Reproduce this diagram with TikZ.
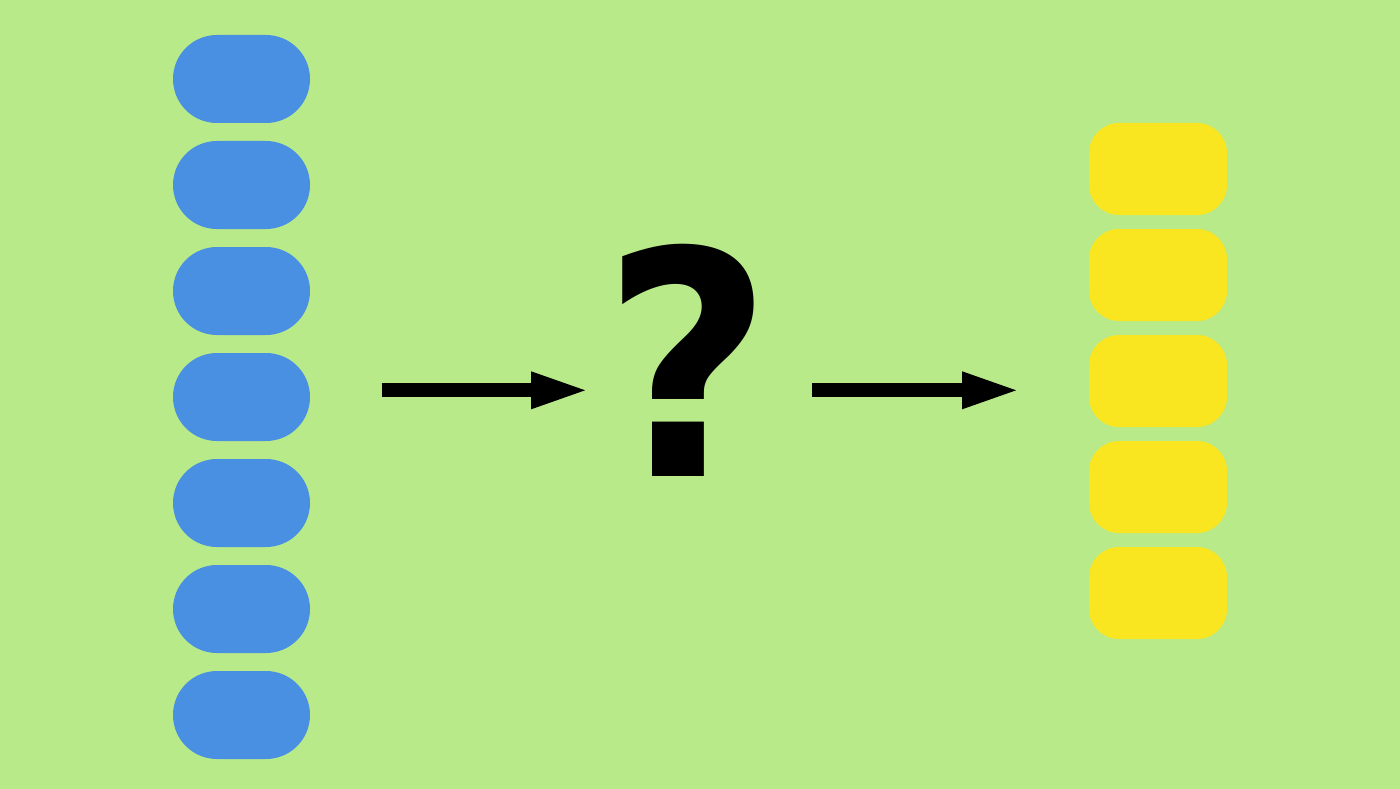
\documentclass[tikz,border=0pt]{standalone}
\usepackage{fontspec}
\newfontfamily\qfont{DejaVu Sans Bold}
\usetikzlibrary{arrows.meta}
\definecolor{bggreen}{HTML}{B8EA8A}
\definecolor{pillblue}{HTML}{4A90E2}
\definecolor{pillyellow}{HTML}{F9E520}
\def\darrow{\draw[line width=14pt,-{Triangle[length=59pt,width=33pt]}]}

\begin{document}
\begin{tikzpicture}[x=1pt,y=-1pt,
    inpill/.style={fill=pillblue,rounded corners=44pt,inner sep=0pt,
      minimum width=137pt,minimum height=88pt},
    outpill/.style={fill=pillyellow,rounded corners=30pt,inner sep=0pt,
      minimum width=138pt,minimum height=92pt}]
  \fill[bggreen] (0,0) rectangle (1400,789);
  \useasboundingbox (0,0) rectangle (1400,789);
  % input column
  \foreach \i in {0,...,6}
    \node[inpill] (in\i) at (241.5,79+106*\i) {};
  % output column
  \foreach \i in {0,...,4}
    \node[outpill] (out\i) at (1158,169+106*\i) {};
  \node[inner sep=0pt] (q) at (688,360.5)
    {\scalebox{0.94}[1]{\qfont\fontsize{313}{313}\selectfont ?}};
  \coordinate (l1) at (381.5,390.3);
  \coordinate (l2) at (590,390.3);
  \coordinate (r1) at (812.3,390.3);
  \coordinate (r2) at (1021,390.3);
  \darrow (l1) -- (l2);
  \darrow (r1) -- (r2);
\end{tikzpicture}
\end{document}
